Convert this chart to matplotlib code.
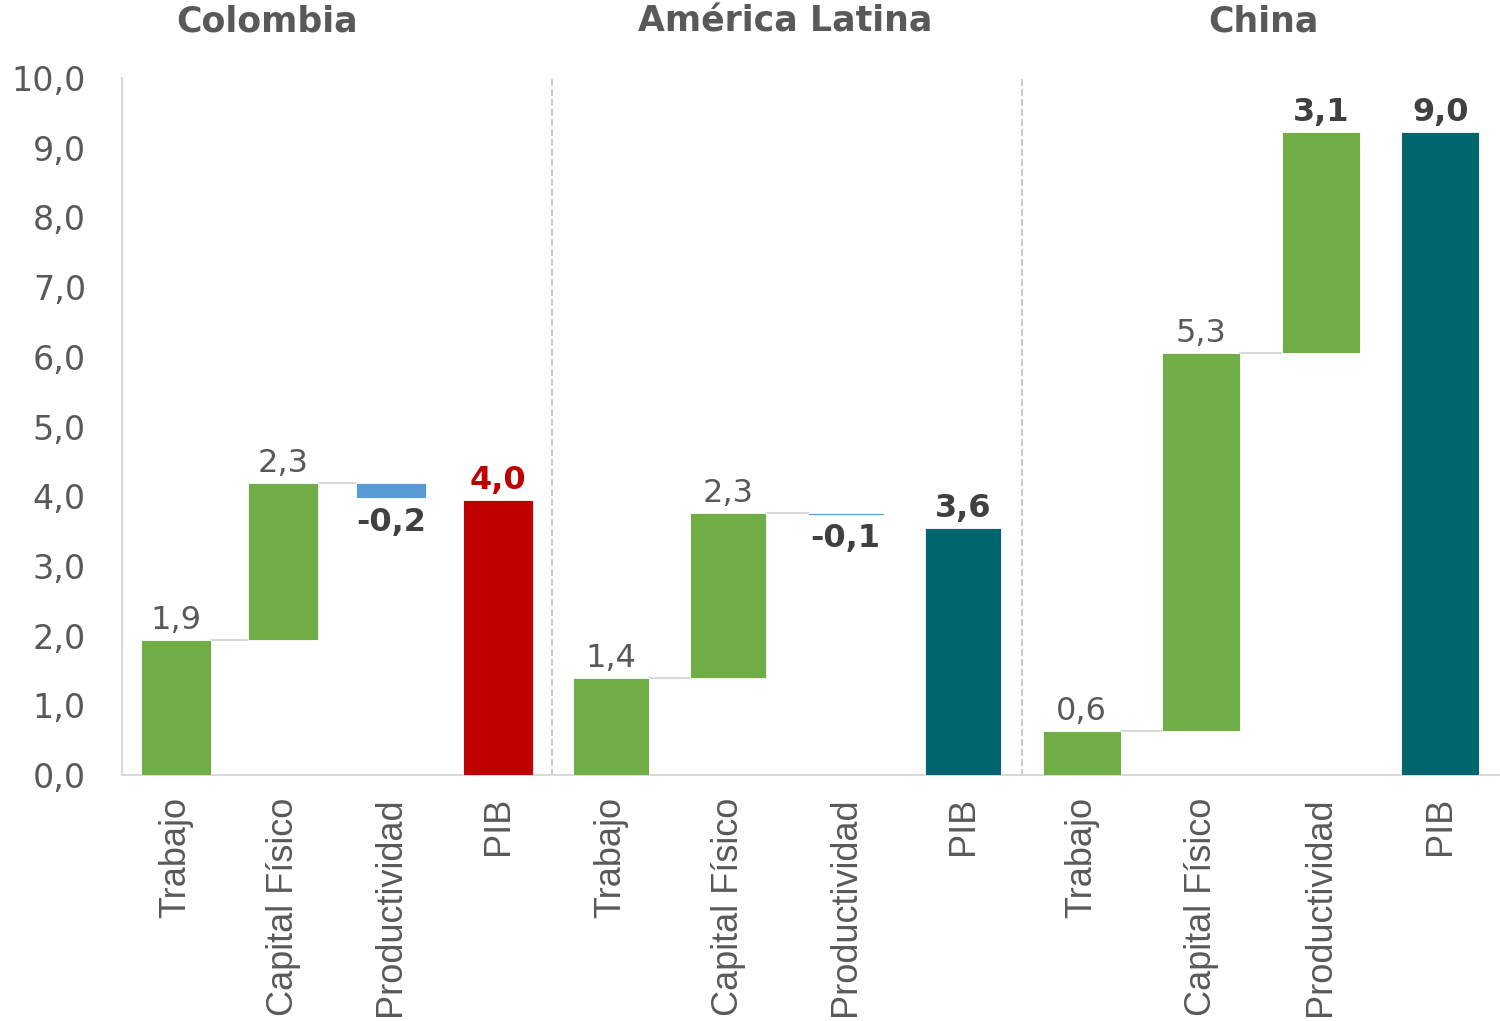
import matplotlib.pyplot as plt

# datos
categorias = ['Trabajo', 'Capital Físico', 'Productividad', 'PIB']
regiones = ['Colombia', 'América Latina', 'China']

# aportes dibujados (altura de cada barra) y PIB final
col_aportes = [1.94, 2.25, -0.22]
col_pib = 3.95
al_aportes = [1.39, 2.37, -0.03]
al_pib = 3.54
ch_aportes = [0.63, 5.42, 3.17]
ch_pib = 9.22

# valores impresos como etiqueta
col_etiquetas = [1.9, 2.3, -0.2, 4.0]
al_etiquetas = [1.4, 2.3, -0.1, 3.6]
ch_etiquetas = [0.6, 5.3, 3.1, 9.0]

y_ticks = [0, 1, 2, 3, 4, 5, 6, 7, 8, 9, 10]

VERDE = '#70AD47'
AZUL = '#5B9BD5'
GRIS = '#595959'
OSCURO = '#404040'
LINEA = '#D9D9D9'
ANCHA = 'DejaVu Sans'  # el original tiene el texto estirado a lo ancho

plt.rcParams['font.family'] = ['Liberation Sans', 'DejaVu Sans']

fig = plt.figure(figsize=(15, 10.21), dpi=100)

W, H = 1500, 1021
left0, bottom_px, top_px = 122, 775, 78
anchos = [430, 470, 478]
centros_titulo = [267, 785, 1263]
colores_pib = ['#C00000', '#00656E', '#00656E']
color_etq_pib = ['#C00000', OSCURO, OSCURO]

grupos = [
    (col_aportes, col_pib, col_etiquetas),
    (al_aportes, al_pib, al_etiquetas),
    (ch_aportes, ch_pib, ch_etiquetas),
]

ancho_barra = 0.65


def fmt(v):
    return f'{v:.1f}'.replace('.', ',')


x0 = left0
for g, (aportes, pib, etiquetas) in enumerate(grupos):
    ax = fig.add_axes([x0 / W, 1 - bottom_px / H, anchos[g] / W, (bottom_px - top_px) / H])
    x0 += anchos[g]
    ax.set_xlim(-0.5, 3.5)
    ax.set_ylim(0, 10)

    base = 0
    bases = []
    for i, v in enumerate(aportes):
        color = VERDE if v >= 0 else AZUL
        ax.bar(i, v, bottom=base, width=ancho_barra, color=color,
               edgecolor='white', linewidth=0.6, zorder=3)
        bases.append(base)
        base += v
    ax.bar(3, pib, width=ancho_barra, color=colores_pib[g],
           edgecolor='white', linewidth=0.6, zorder=3)

    # líneas conectoras
    for i in range(2):
        nivel = bases[i] + aportes[i]
        ax.plot([i + ancho_barra / 2, i + 1 - ancho_barra / 2], [nivel, nivel],
                color=LINEA, lw=1.5, zorder=2)

    # etiquetas de datos
    for i, v in enumerate(aportes):
        arriba = max(bases[i], bases[i] + v)
        abajo = min(bases[i], bases[i] + v)
        if v >= 0:
            negrita = (g == 2 and i == 2)
            ax.text(i, arriba + 0.06, fmt(etiquetas[i]), ha='center', va='bottom',
                    fontsize=23, color=OSCURO if negrita else GRIS, family=ANCHA,
                    fontweight='bold' if negrita else 'normal')
        else:
            ax.text(i, abajo - 0.12, fmt(etiquetas[i]), ha='center', va='top',
                    fontsize=23, color=OSCURO, fontweight='bold', family=ANCHA)
    ax.text(3, pib + 0.06, fmt(etiquetas[3]), ha='center', va='bottom',
            fontsize=23, color=color_etq_pib[g], fontweight='bold', family=ANCHA)

    ax.set_xticks(range(4))
    ax.set_xticklabels(categorias, rotation=90, fontsize=26, color=GRIS, va='top')
    ax.tick_params(axis='x', length=0, pad=16)

    ax.spines['top'].set_visible(False)
    ax.spines['right'].set_visible(False)
    ax.spines['bottom'].set_color(LINEA)
    ax.spines['bottom'].set_linewidth(1.5)
    if g == 0:
        ax.spines['left'].set_color(LINEA)
        ax.spines['left'].set_linewidth(1.5)
        ax.set_yticks(y_ticks)
        ax.set_yticklabels([fmt(t) for t in y_ticks], fontsize=24, color=GRIS,
                           family=ANCHA)
        ax.tick_params(axis='y', length=0, pad=26)
    else:
        ax.spines['left'].set_color('#BFBFBF')
        ax.spines['left'].set_linewidth(1.2)
        ax.spines['left'].set_linestyle((0, (3, 3)))
        ax.set_yticks([])

    fig.text(centros_titulo[g] / W, 1 - 22 / H, regiones[g], ha='center', va='center',
             fontsize=25, fontweight='bold', color=GRIS, family=ANCHA)

fig.savefig('out.png', dpi=100)
